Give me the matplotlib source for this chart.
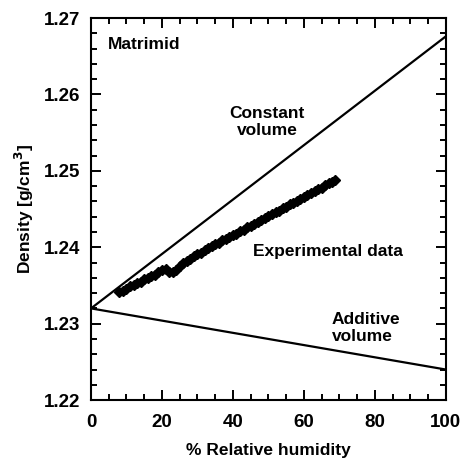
import matplotlib
matplotlib.use("Agg")
import matplotlib.pyplot as plt
from matplotlib.ticker import MultipleLocator

plt.rcParams['font.family'] = ['Liberation Sans', 'DejaVu Sans']
plt.rcParams['font.weight'] = 'bold'

# Measured density of Matrimid versus relative humidity
rh_exp = [8, 9, 10, 11, 12, 13, 14, 15, 16, 17, 18, 19, 20, 21, 22, 23, 24,
          25, 26, 27, 28, 29, 30, 31, 32, 33, 34, 35, 36, 37, 38, 39, 40, 41,
          42, 43, 44, 45, 46, 47, 48, 49, 50, 51, 52, 53, 54, 55, 56, 57, 58,
          59, 60, 61, 62, 63, 64, 65, 66, 67, 68, 68.7]
density_exp = [1.2341, 1.2343, 1.2346, 1.2349, 1.2351, 1.2353, 1.2355, 1.2358,
               1.2360, 1.2362, 1.2364, 1.2367, 1.2370, 1.2372, 1.2368, 1.2367,
               1.2370, 1.2376, 1.2379, 1.2382, 1.2385, 1.2388, 1.2391, 1.2393,
               1.2396, 1.2399, 1.2402, 1.2404, 1.2406, 1.2409, 1.2411, 1.2414,
               1.2416, 1.2418, 1.2421, 1.2423, 1.2426, 1.2428, 1.2431, 1.2433,
               1.2436, 1.2438, 1.2441, 1.2443, 1.2446, 1.2448, 1.2451, 1.2453,
               1.2456, 1.2458, 1.2461, 1.2463, 1.2466, 1.2468, 1.2471, 1.2473,
               1.2476, 1.2478, 1.2481, 1.2484, 1.2486, 1.2488]

# Model predictions (end points of straight lines)
rh_model = [0, 100]
density_constant_volume = [1.2320, 1.2676]
density_additive_volume = [1.2320, 1.2240]

fig = plt.figure(figsize=(4.62, 4.62), dpi=100)
ax = fig.add_axes([0.197, 0.134, 0.768, 0.827])

ax.plot(rh_model, density_constant_volume, color='black', lw=1.6)
ax.plot(rh_model, density_additive_volume, color='black', lw=1.6)
ax.plot(rh_exp, density_exp, linestyle='none', marker='D', markersize=5.5,
        color='black')

ax.set_xlim(0, 100)
ax.set_ylim(1.22, 1.27)
ax.xaxis.set_major_locator(MultipleLocator(20))
ax.xaxis.set_minor_locator(MultipleLocator(5))
ax.yaxis.set_major_locator(MultipleLocator(0.01))
ax.yaxis.set_minor_locator(MultipleLocator(0.002))
ax.tick_params(which='both', direction='in', top=True, right=True, width=1.4,
               labelsize=13.5)
ax.tick_params(which='major', length=7)
ax.tick_params(which='minor', length=4)
ax.tick_params(axis='y', pad=7.5)
ax.tick_params(axis='x', pad=10)
for lbl in ax.get_xticklabels() + ax.get_yticklabels():
    lbl.set_fontweight('bold')
for sp in ax.spines.values():
    sp.set_linewidth(1.5)

ax.set_xlabel('% Relative humidity', fontsize=12.5, fontweight='bold', labelpad=9)
ax.set_ylabel('Density [g/cm$^3$]', fontsize=12.5, fontweight='bold', labelpad=6)

ax.text(4.8, 1.2665, 'Matrimid', fontsize=12.5, fontweight='bold', va='center')
ax.text(49.6, 1.2564, 'Constant\nvolume', fontsize=12.5, fontweight='bold',
        ha='center', va='center', linespacing=1.15)
ax.text(45.6, 1.2394, 'Experimental data', fontsize=12.5, fontweight='bold',
        va='center')
ax.text(67.9, 1.2294, 'Additive\nvolume', fontsize=12.5, fontweight='bold',
        va='center', linespacing=1.15)

fig.savefig('out.png', dpi=100)
